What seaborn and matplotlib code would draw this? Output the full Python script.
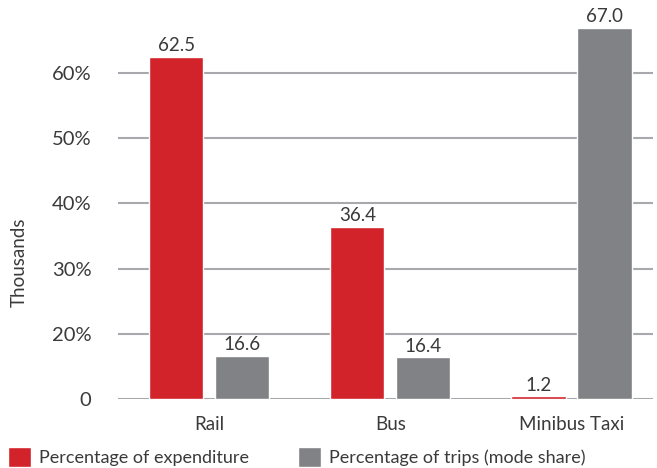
import numpy as np
import pandas as pd
import matplotlib
matplotlib.use("Agg")
import matplotlib.pyplot as plt
import seaborn as sns

modes = ["Rail", "Bus", "Minibus Taxi"]
series_names = ["Percentage of expenditure", "Percentage of trips (mode share)"]
expenditure = [62.5, 36.4, 1.2]
trips = [16.6, 16.4, 67.0]
ytick_values = [0, 20, 30, 40, 50, 60]
ytick_labels = ["0", "20%", "30%", "40%", "50%", "60%"]
colors = ["#D2232A", "#808285"]

df = pd.DataFrame({
    "mode": modes * 2,
    "series": [series_names[0]] * 3 + [series_names[1]] * 3,
    "value": expenditure + trips,
})

sns.set_theme(style="white")
plt.rcParams["font.family"] = ["Lato", "DejaVu Sans"]
text_color = "#3a3a3a"

fig = plt.figure(figsize=(6.57, 4.68), dpi=100)
W, H = 657, 468
ax = fig.add_axes([118 / W, 1 - 399 / H, (653 - 118) / W, (399 - 8) / H])

# broken lower segment of the axis: 0..15 is drawn in the space of 10..15
def fwd(v):
    v = np.asarray(v, dtype=float)
    return np.where(v < 15, 10 + v / 3, v)

def inv(u):
    u = np.asarray(u, dtype=float)
    return np.where(u < 15, (u - 10) * 3, u)

ax.set_yscale("function", functions=(fwd, inv))

sns.barplot(data=df, x="mode", y="value", hue="series", palette=colors,
            width=0.73, gap=0.18, saturation=1, ax=ax, legend=True, zorder=3)

ax.set_ylim(0, 70)
ax.set_xlim(-0.503, 2.45)
ax.set_yticks(ytick_values)
ax.set_yticklabels(ytick_labels)
ax.yaxis.grid(True, color="#a7a9ac", linewidth=1.5, zorder=0)
ax.set_axisbelow(True)
for s in ax.spines.values():
    s.set_visible(False)
ax.tick_params(axis="y", length=0, pad=19, labelsize=14.5, labelcolor=text_color)
ax.tick_params(axis="x", length=0, pad=12, labelsize=13.5, labelcolor=text_color)
ax.set_xlabel("")
ax.set_ylabel("Thousands", fontsize=13.5, color=text_color)
ax.yaxis.set_label_coords(-0.168, 0.35)

for cont in ax.containers:
    ax.bar_label(cont, fmt="%.1f", padding=2, fontsize=13.5, color=text_color)

handles, labels = ax.get_legend_handles_labels()
ax.get_legend().remove()
fig.legend(handles, labels, loc="center left", bbox_to_anchor=(8 / W, 1 - 457 / H),
           ncol=2, frameon=False, fontsize=13, handlelength=1.25, handleheight=1.25,
           handletextpad=0.45, columnspacing=2.75, borderpad=0, borderaxespad=0,
           labelcolor=text_color)

fig.savefig("out.png", dpi=100)
